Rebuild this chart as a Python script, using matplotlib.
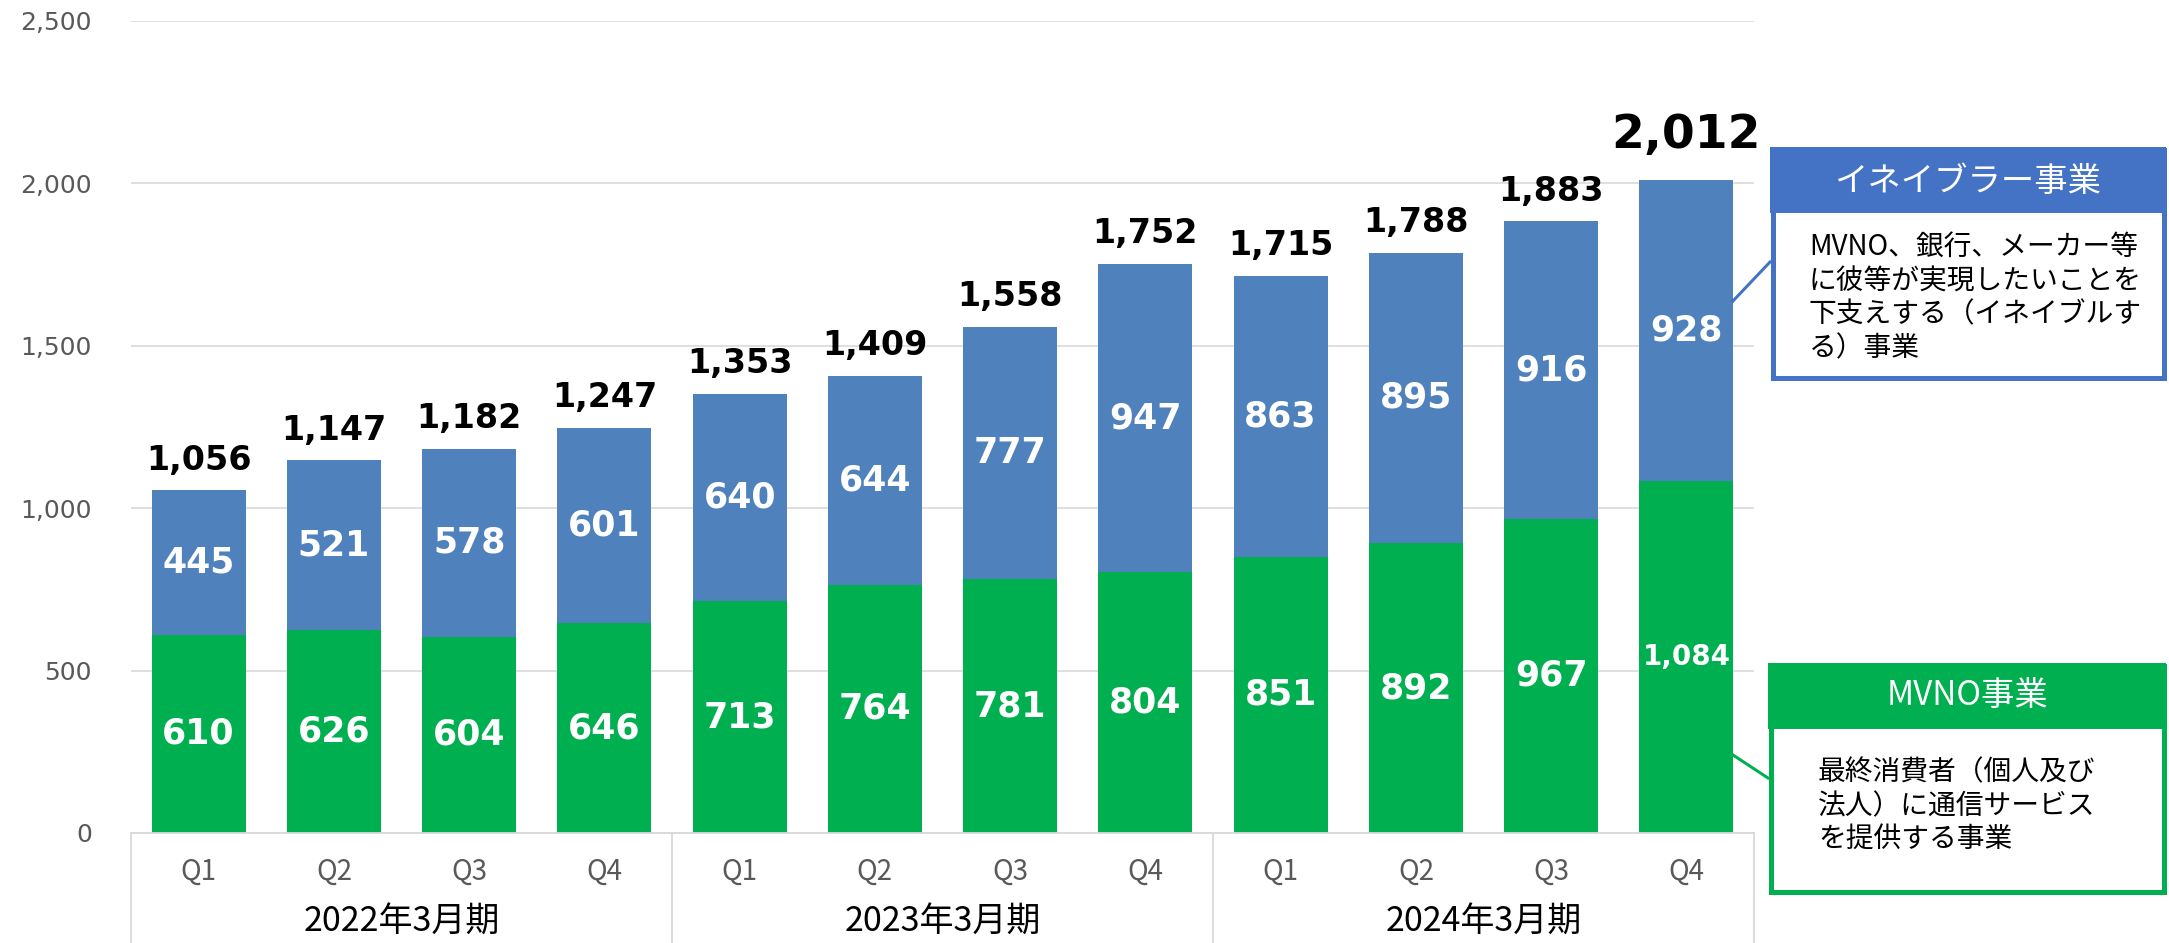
import matplotlib
matplotlib.use("Agg")
import matplotlib.pyplot as plt
from matplotlib.patches import Rectangle
from matplotlib.lines import Line2D
import matplotlib.transforms as mtransforms

# ---- data ----
quarters = ["Q1", "Q2", "Q3", "Q4"] * 3
fiscal_years = ["2022年3月期", "2023年3月期", "2024年3月期"]
mvno = [610, 626, 604, 646, 713, 764, 781, 804, 851, 892, 967, 1084]
enabler = [445, 521, 578, 601, 640, 644, 777, 947, 863, 895, 916, 928]
totals = [1056, 1147, 1182, 1247, 1353, 1409, 1558, 1752, 1715, 1788, 1883, 2012]
yticks = [0, 500, 1000, 1500, 2000, 2500]

enabler_title = "イネイブラー事業"
enabler_desc = ["MVNO、銀行、メーカー等", "に彼等が実現したいことを",
                "下支えする（イネイブルす", "る）事業"]
mvno_title = "MVNO事業"
mvno_desc = ["最終消費者（個人及び", "法人）に通信サービス", "を提供する事業"]

# ---- style ----
BLUE_BAR = "#4F81BD"
GREEN = "#00B050"
BLUE_BOX = "#4472C4"
GRID = "#D9D9D9"
GRAY = "#595959"
CJK = ["Noto Sans CJK JP", "DejaVu Sans"]

plt.rcParams["font.family"] = ["DejaVu Sans"]

W, H = 2169, 943
fig = plt.figure(figsize=(W / 100, H / 100), dpi=100)
PX = 72 / 100  # points per pixel


def fx(x):
    return x / W


def fy(y):
    return 1 - y / H


ax_left, ax_right, ax_top, ax_bottom = 131, 1754, 21, 833
ax = fig.add_axes([fx(ax_left), fy(ax_bottom), (ax_right - ax_left) / W,
                   (ax_bottom - ax_top) / H])

x = list(range(len(mvno)))
bw = 0.695
ax.bar(x, mvno, width=bw, color=GREEN, zorder=2)
ax.bar(x, enabler, width=bw, bottom=mvno, color=BLUE_BAR, zorder=2)

ax.set_xlim(-0.5, len(x) - 0.5)
ax.set_ylim(0, 2500)
ax.set_yticks(yticks)
ax.set_yticklabels([f"{v:,}" for v in yticks])
ax.tick_params(axis="y", length=0, pad=28, labelsize=18, labelcolor=GRAY)
ax.set_xticks([])
ax.yaxis.grid(True, color=GRID, lw=1.2)
ax.set_axisbelow(True)
for s in ["top", "right", "left"]:
    ax.spines[s].set_visible(False)
ax.spines["bottom"].set_color(GRID)
ax.spines["bottom"].set_linewidth(1.3)

# segment labels
for i in x:
    g, b = mvno[i], enabler[i]
    ax.text(i, g / 2, f"{g:,}", ha="center", va="center", color="white",
            fontweight="bold", fontsize=20 if g >= 1000 else 25, zorder=3)
    ax.text(i, g + b / 2, f"{b:,}", ha="center", va="center", color="white",
            fontweight="bold", fontsize=20 if b >= 1000 else 25, zorder=3)

# total labels
last = len(x) - 1
for i in x:
    top = mvno[i] + enabler[i]
    big = i == last
    ax.annotate(f"{totals[i]:,}", (i, top), xytext=(0, 23 if big else 15),
                textcoords="offset points", ha="center", va="baseline",
                fontweight="bold", fontsize=34 if big else 24, color="black",
                zorder=3)

# category table below axis
trans = mtransforms.blended_transform_factory(ax.transData, ax.transAxes)
ax_h = ax_bottom - ax_top
q_y = -(872 - ax_bottom) / ax_h
yr_y = -(921 - ax_bottom) / ax_h
sep_bot = -(H - ax_bottom) / ax_h
for i in x:
    ax.text(i, q_y, quarters[i], transform=trans, ha="center", va="center",
            fontsize=20, color=GRAY, family=CJK)
for k, fy_lab in enumerate(fiscal_years):
    ax.text(4 * k + 1.5, yr_y, fy_lab, transform=trans, ha="center",
            va="center", fontsize=24.5, color="black", family=CJK)
for xs in [-0.5, 3.5, 7.5, 11.5]:
    ax.add_line(Line2D([xs, xs], [0, sep_bot], transform=trans, color=GRID,
                       lw=1.3, clip_on=False))


# annotation boxes
def box(x0, x1, y0, yh, y1, color, title, title_y, lines, tx, ly):
    lw = 5
    fig.add_artist(Rectangle((fx(x0 + lw / 2), fy(y1 - lw / 2)),
                             (x1 - x0 - lw) / W, (y1 - y0 - lw) / H,
                             transform=fig.transFigure, facecolor="white",
                             edgecolor=color, lw=lw * PX))
    fig.add_artist(Rectangle((fx(x0), fy(yh)), (x1 - x0) / W, (yh - y0) / H,
                             transform=fig.transFigure, facecolor=color,
                             edgecolor="none"))
    fig.text(fx((x0 + x1) / 2), fy(title_y), title, ha="center", va="center",
             color="white", fontsize=24, family=CJK)
    for t, yy in zip(lines, ly):
        fig.text(fx(tx), fy(yy), t, ha="left", va="center", color="black",
                 fontsize=20, family=CJK)


box(1770, 2166, 147, 213, 380, BLUE_BOX, enabler_title, 181, enabler_desc,
    1809, [247, 282, 314, 348])
box(1768, 2166, 663, 729, 894, GREEN, mvno_title, 695, mvno_desc,
    1818, [772, 806, 839])

fig.add_artist(Line2D([fx(1733), fx(1770)], [fy(301), fy(262)],
                      transform=fig.transFigure, color=BLUE_BOX, lw=3 * PX))
fig.add_artist(Line2D([fx(1733), fx(1768)], [fy(755), fy(778)],
                      transform=fig.transFigure, color=GREEN, lw=3 * PX))

fig.savefig("out.png", dpi=100)
